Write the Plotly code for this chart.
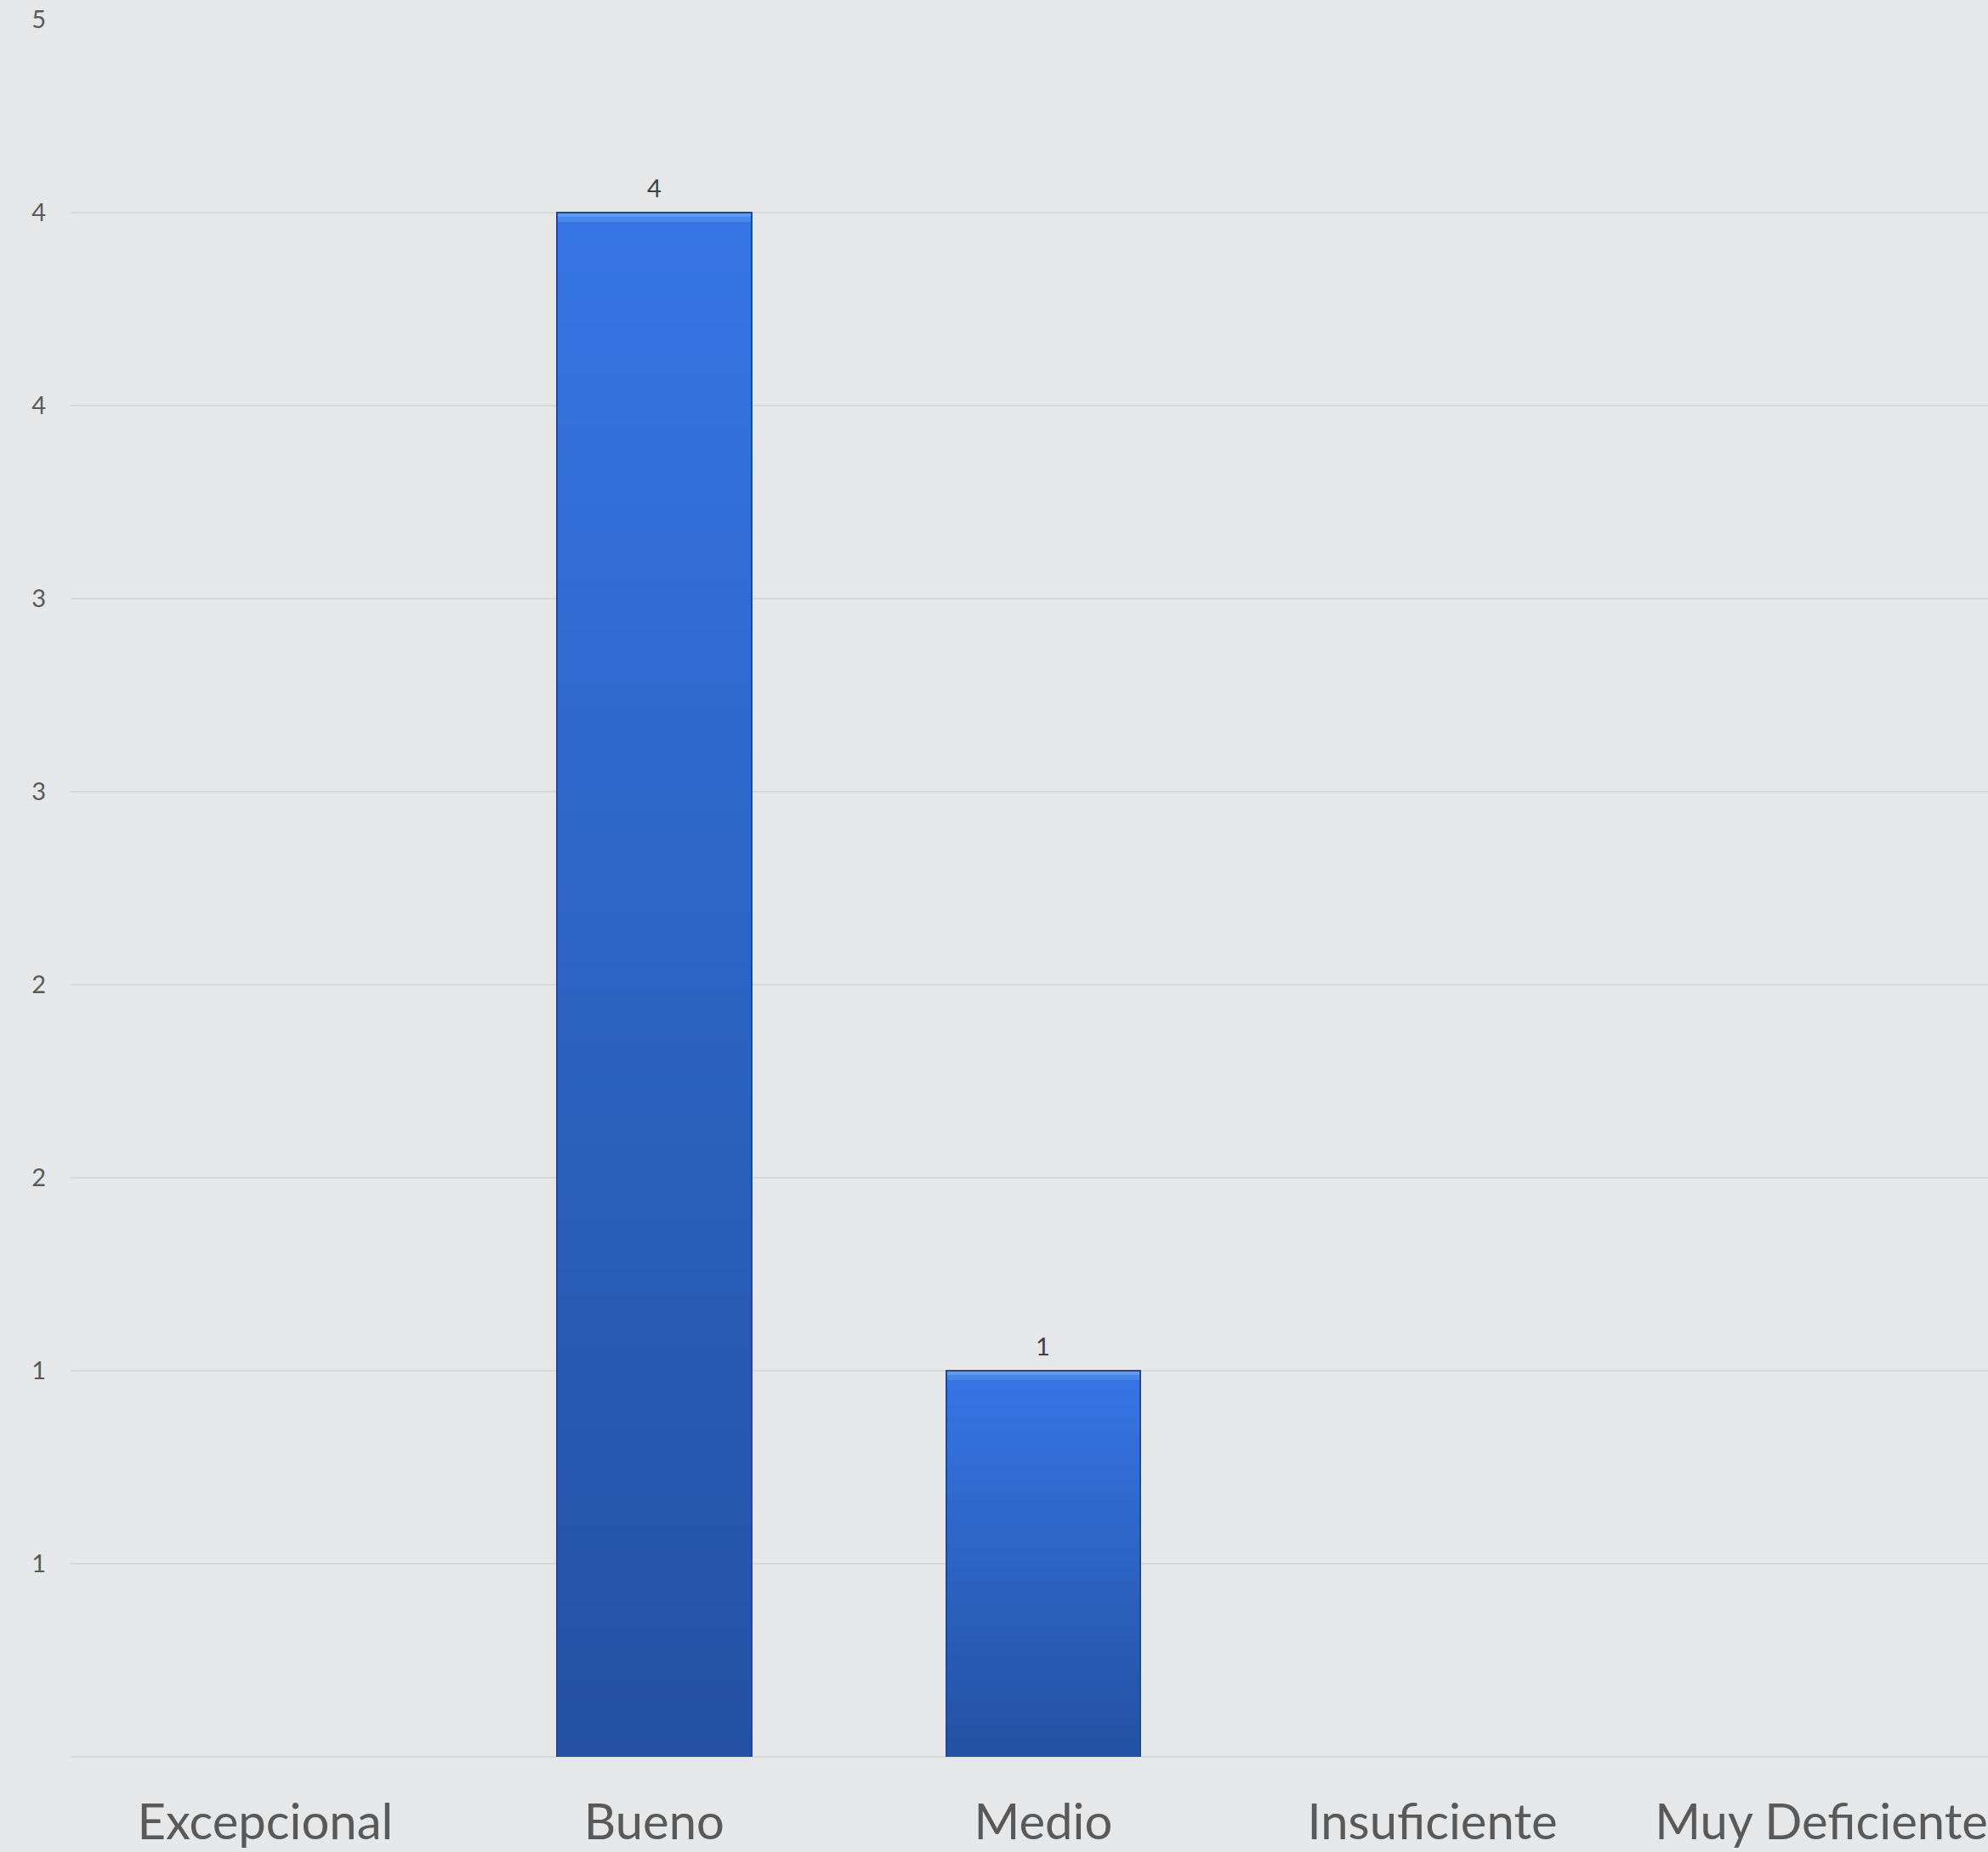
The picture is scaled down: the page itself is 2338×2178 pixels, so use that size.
import plotly.graph_objects as go

# Rating categories and response counts
categories = ["Excepcional", "Bueno", "Medio", "Insuficiente", "Muy Deficiente"]
counts = [0, 4, 1, 0, 0]

# Y axis gridlines every half unit, labelled with rounded whole numbers
tick_values = [0, 0.5, 1, 1.5, 2, 2.5, 3, 3.5, 4, 4.5]
tick_labels = ["", "1", "1", "2", "2", "3", "3", "4", "4", "5"]

TOP_COLOR = (0x35, 0x75, 0xE3)
BOTTOM_COLOR = (0x24, 0x51, 0xA3)
BEVEL_COLOR = "#5E9BF0"
BEVEL_MID = "#4886E8"
N_STEPS = 60
BEVEL = 0.012

LABEL_FONT = "Lato, 'Open Sans', sans-serif"
BG = "#E6E7E9"
GRID = "#D7D8DA"


def mix(t):
    r = [round(BOTTOM_COLOR[i] + (TOP_COLOR[i] - BOTTOM_COLOR[i]) * t) for i in range(3)]
    return "rgb({},{},{})".format(*r)


shown = [v if v > 0 else None for v in counts]

fig = go.Figure()

# Vertical gradient: each bar is stacked from thin slices of its own height
for k in range(N_STEPS):
    seg = [(v - 2 * BEVEL) / N_STEPS if v else None for v in shown]
    fig.add_trace(go.Bar(
        x=categories, y=seg, width=0.5,
        marker=dict(color=mix(k / (N_STEPS - 1)), line=dict(width=0)),
        hoverinfo="skip", showlegend=False,
    ))

# Light bevel along the top edge
for col in (BEVEL_MID, BEVEL_COLOR):
    fig.add_trace(go.Bar(
        x=categories, y=[BEVEL if v else None for v in shown], width=0.5,
        marker=dict(color=col, line=dict(width=0)),
        hoverinfo="skip", showlegend=False,
    ))

# Thin dark outline over each full bar
fig.add_trace(go.Bar(
    x=categories, y=shown, width=0.5, xaxis="x2",
    marker=dict(color="rgba(0,0,0,0)", line=dict(color="#22488F", width=2)),
    hoverinfo="skip", showlegend=False,
))

# Value labels above the bars
for c, v in zip(categories, counts):
    if v > 0:
        fig.add_annotation(
            x=c, y=v, text=str(v), showarrow=False,
            yanchor="middle", yshift=30,
            font=dict(family=LABEL_FONT, size=29, color="#404040"),
        )

x_range = [-0.5, 4.428]

fig.update_layout(
    width=2338, height=2178,
    margin=dict(l=83, r=0, t=23, b=112),
    paper_bgcolor=BG, plot_bgcolor=BG,
    barmode="stack", bargap=0.5,
    showlegend=False,
    xaxis=dict(
        range=x_range, showgrid=False, zeroline=False, showline=False,
        ticks="", tickfont=dict(family=LABEL_FONT, size=58, color="#595959"),
        ticklabelstandoff=38, automargin=False,
    ),
    xaxis2=dict(
        range=x_range, overlaying="x", matches="x", visible=False,
    ),
    yaxis=dict(
        range=[0, 4.5], tickvals=tick_values, ticktext=tick_labels,
        showgrid=True, gridcolor=GRID, gridwidth=2,
        zeroline=True, zerolinecolor=GRID, zerolinewidth=2,
        showline=False, ticks="", automargin=False,
        tickfont=dict(family=LABEL_FONT, size=29, color="#595959"),
        ticklabelstandoff=28,
    ),
)

fig.write_html("out.html")
